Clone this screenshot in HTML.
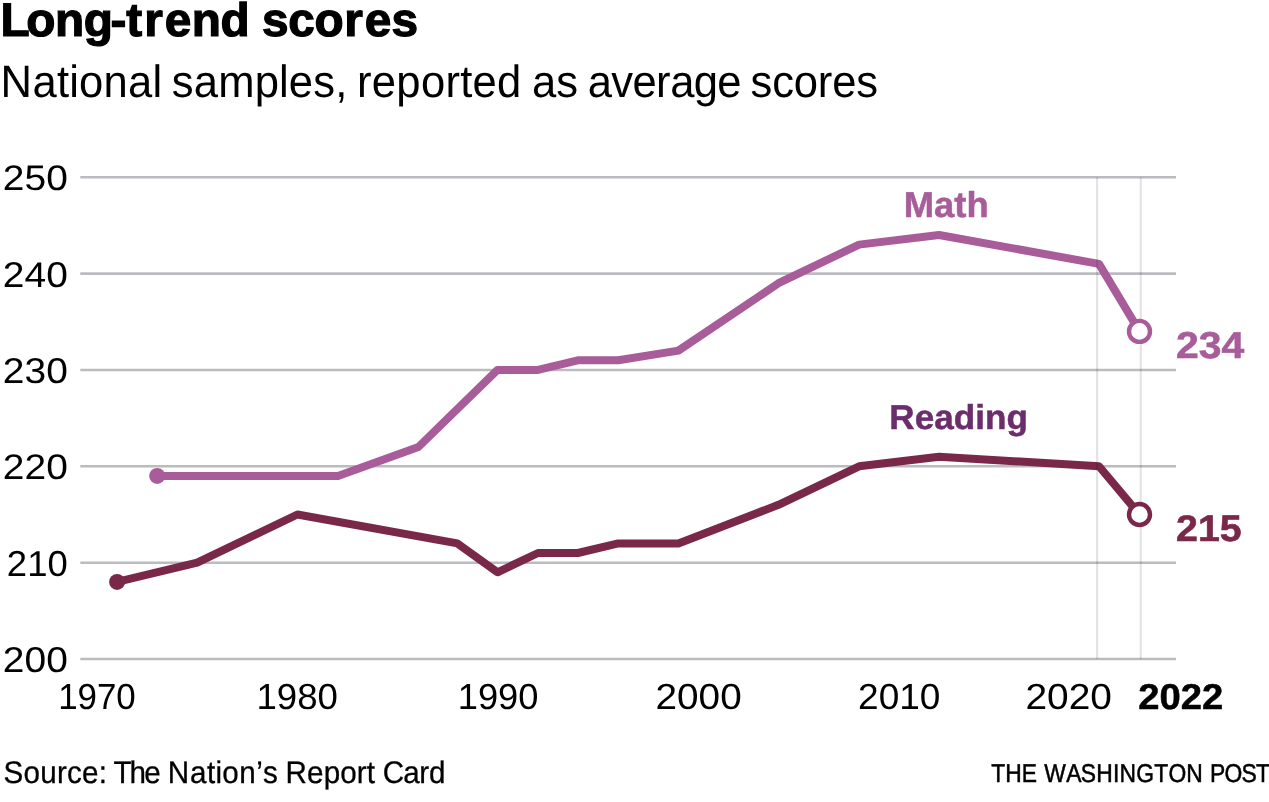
<!DOCTYPE html>
<html lang="en"><head><meta charset="utf-8"><title>Long-trend scores</title>
<style>html,body{margin:0;padding:0;background:#fff}body{width:1269px;height:802px;overflow:hidden}svg{display:block}text{font-family:"Liberation Sans",Arial,Helvetica,sans-serif;text-rendering:geometricPrecision;white-space:pre}</style></head><body>
<svg width="1269" height="802" viewBox="0 0 1269 802">
<rect width="1269" height="802" fill="#fff"/>
<g stroke="#bbbcc0" stroke-width="2.6" fill="none">
<line x1="80.3" x2="1176" y1="177.20" y2="177.20"/>
<line x1="80.3" x2="1176" y1="273.60" y2="273.60"/>
<line x1="80.3" x2="1176" y1="369.95" y2="369.95"/>
<line x1="80.3" x2="1176" y1="466.30" y2="466.30"/>
<line x1="80.3" x2="1176" y1="562.70" y2="562.70"/>
<line x1="80.3" x2="1176" y1="659.05" y2="659.05"/>
</g>
<polyline points="157.2,475.9 257.3,475.9 338.0,475.9 418.4,447.0 497.5,369.9 538.0,369.9 577.8,360.3 618.3,360.3 678.4,350.6 778.5,283.2 859.1,244.6 939.0,235.0 1099.0,263.9 1139.5,331.4" fill="none" stroke="#a85c9a" stroke-width="8" stroke-linejoin="round" stroke-linecap="round"/>
<polyline points="117.1,581.9 197.2,562.7 297.4,514.5 457.4,543.4 497.5,572.3 538.0,553.0 577.8,553.0 618.3,543.4 678.4,543.4 778.5,504.8 859.1,466.3 939.0,456.7 1099.0,466.3 1139.5,514.5" fill="none" stroke="#79284a" stroke-width="8" stroke-linejoin="round" stroke-linecap="round"/>
<g stroke="#000" stroke-opacity="0.11" stroke-width="2.2" fill="none"><line x1="1097.1" x2="1097.1" y1="177.2" y2="659.05"/><line x1="1140.75" x2="1140.75" y1="177.2" y2="659.05"/></g>
<circle cx="157.2" cy="475.9" r="8" fill="#a85c9a"/>
<circle cx="117.1" cy="581.9" r="8" fill="#79284a"/>
<circle cx="1139.5" cy="331.4" r="10.5" fill="#fff" stroke="#a85c9a" stroke-width="4.4"/>
<circle cx="1139.5" cy="514.5" r="10.5" fill="#fff" stroke="#79284a" stroke-width="4.4"/>
<text transform="translate(0,36) scale(1.0165,1)" x="0.54 25.88 54.06 82.47 108.65 124.24 142.04 162.00 188.74 217.00 217.00 257.77 283.47 309.33 338.64 358.73 385.07" font-size="47.00" font-weight="700" fill="#000" stroke="#000" stroke-width="1.2">Long-trend scores</text>
<text transform="translate(0,97) scale(0.9618,1)" x="0.65 33.72 59.19 71.91 82.09 107.56 133.03 158.50 158.50 178.68 201.48 226.83 264.81 290.16 300.29 325.65 348.44 348.44 371.30 386.58 412.12 437.65 463.18 478.47 491.22 516.75 516.75 553.10 578.22 578.22 611.01 635.54 657.58 682.11 696.79 721.31 745.84 745.84 780.40 802.84 825.28 850.24 865.19 890.15" font-size="45.30" font-weight="400" fill="#000">National samples, reported as average scores</text>
<text transform="translate(0,190) scale(1.0971,1)" x="2.59 22.33 42.08" font-size="35.50" font-weight="400" fill="#000">250</text>
<text transform="translate(0,287) scale(1.0883,1)" x="2.61 22.51 42.42" font-size="35.79" font-weight="400" fill="#000">240</text>
<text transform="translate(0,383) scale(1.0883,1)" x="2.61 22.51 42.42" font-size="35.79" font-weight="400" fill="#000">230</text>
<text transform="translate(0,479) scale(1.0927,1)" x="2.60 22.42 42.25" font-size="35.64" font-weight="400" fill="#000">220</text>
<text transform="translate(0,576) scale(1.0112,1)" x="6.79 26.85 46.92" font-size="36.07" font-weight="400" fill="#000">210</text>
<text transform="translate(0,672) scale(1.0883,1)" x="2.61 22.51 42.42" font-size="35.79" font-weight="400" fill="#000">200</text>
<text transform="translate(0,709) scale(0.9634,1)" x="60.35 80.50 100.64 120.79" font-size="36.22" font-weight="400" fill="#000">1970</text>
<text transform="translate(0,709) scale(1.0105,1)" x="253.85 273.99 294.14 314.29" font-size="36.22" font-weight="400" fill="#000">1980</text>
<text transform="translate(0,709) scale(1.0013,1)" x="457.13 477.28 497.42 517.57" font-size="36.22" font-weight="400" fill="#000">1990</text>
<text transform="translate(0,709) scale(1.0681,1)" x="613.78 633.92 654.07 674.22" font-size="36.22" font-weight="400" fill="#000">2000</text>
<text transform="translate(0,709) scale(1.0215,1)" x="840.07 860.21 880.36 900.51" font-size="36.22" font-weight="400" fill="#000">2010</text>
<text transform="translate(0,709) scale(1.0732,1)" x="955.56 975.71 995.86 1016.00" font-size="36.22" font-weight="400" fill="#000">2020</text>
<text transform="translate(0,709) scale(1.0639,1)" x="1069.97 1089.95 1109.94 1129.93" font-size="35.93" font-weight="700" fill="#000" stroke="#000" stroke-width="0.5">2022</text>
<text transform="translate(0,783) scale(0.9493,1)" x="3.77 24.89 42.50 60.11 70.66 86.49 104.10 104.10 119.64 136.52 151.89 151.89 176.78 200.07 218.00 226.96 234.13 252.06 270.00 277.16 277.16 300.86 323.52 340.97 358.42 375.86 386.31 386.31 403.07 424.90 441.72 451.79" font-size="31.20" font-weight="400" fill="#000" stroke="#000" stroke-width="0.3">Source: The Nation’s Report Card</text>
<text transform="translate(0,782) scale(0.8909,1)" x="1112.61 1128.37 1147.01 1147.01 1172.19 1196.79 1213.20 1230.58 1249.40 1256.64 1275.46 1295.73 1311.65 1331.45 1331.45 1358.13 1374.45 1393.48 1409.80" font-size="25.67" font-weight="400" fill="#000" stroke="#000" stroke-width="0.5">THE WASHINGTON POST</text>
<text transform="translate(0,217) scale(1.0146,1)" x="890.77 920.65 940.59 952.54" font-size="35.86" font-weight="700" fill="#a85c9a" stroke="#a85c9a" stroke-width="0.5">Math</text>
<text transform="translate(0,429) scale(1.0207,1)" x="871.28 896.12 915.25 934.39 955.40 964.96 985.97" font-size="34.40" font-weight="700" fill="#6c2d6c" stroke="#6c2d6c" stroke-width="0.5">Reading</text>
<text transform="translate(0,358) scale(1.0945,1)" x="1074.48 1095.26 1116.04" font-size="37.37" font-weight="700" fill="#a85c9a" stroke="#a85c9a" stroke-width="0.6">234</text>
<text transform="translate(0,541) scale(1.0654,1)" x="1103.89 1124.43 1144.98" font-size="36.94" font-weight="700" fill="#79284a" stroke="#79284a" stroke-width="0.6">215</text>
</svg></body></html>
